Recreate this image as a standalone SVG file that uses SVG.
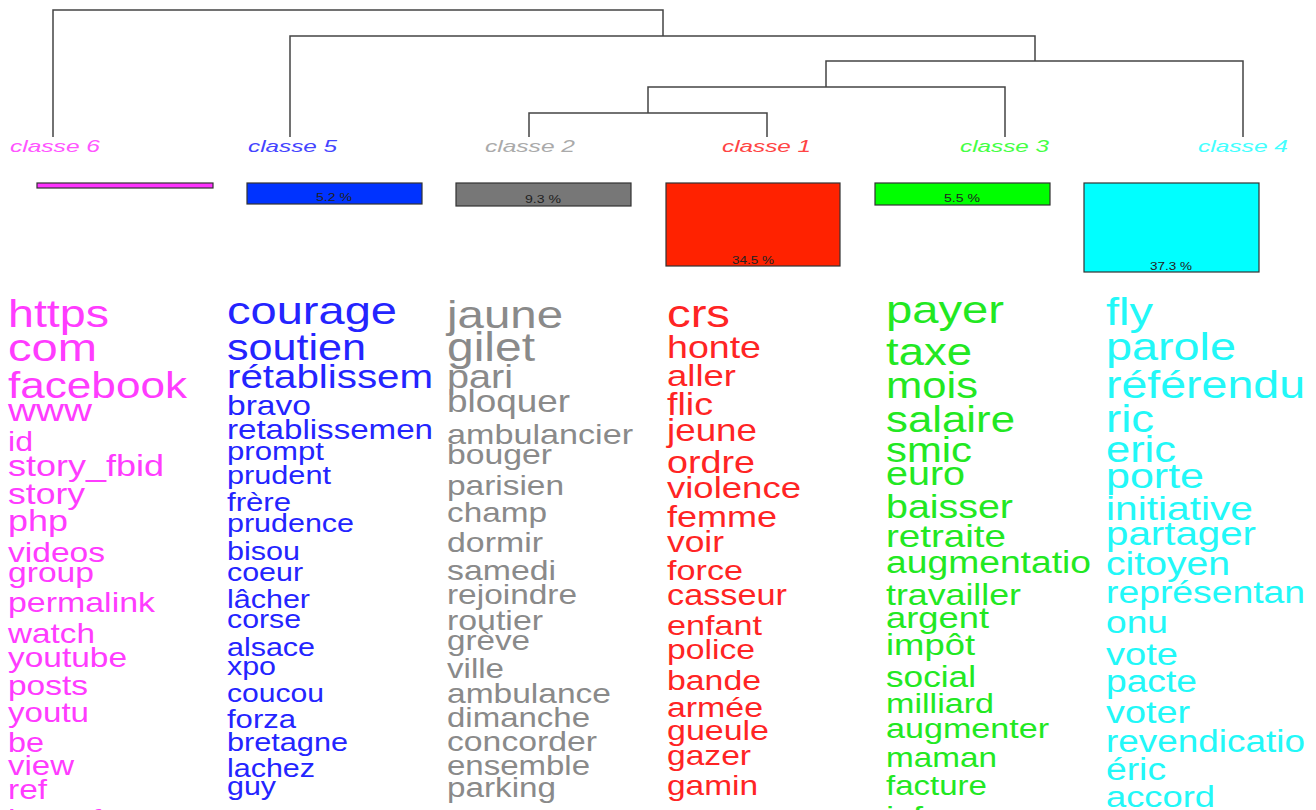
<svg xmlns="http://www.w3.org/2000/svg" width="1316" height="810" viewBox="0 0 1316 810">
<style>
text{font-family:"Liberation Sans",Arial,sans-serif}
.lbl{font-size:17px;font-style:italic}
.pct{font-size:10px;fill:#222}
.bar{stroke:#333;stroke-width:1.2}
.c6{fill:#ff3cff}.c5{fill:#2424ff}.c2{fill:#8a8a8a}.c1{fill:#ff2424}.c3{fill:#22e822}.c4{fill:#22f8f8}
.l6{fill:#ff55ff}.l5{fill:#4444ff}.l2{fill:#aaaaaa}.l1{fill:#ff4444}.l3{fill:#44ff44}.l4{fill:#44ffff}
</style>
<rect width="1316" height="810" fill="#ffffff"/>
<g id="connectors" fill="none" stroke="#444" stroke-width="1.5">
<path d="M53,137 V10 H663 V36"/>
<path d="M290,137 V36 H1035 V61"/>
<path d="M826,87 V61 H1243 V137"/>
<path d="M648,113 V87 H1005 V137"/>
<path d="M529,137 V113 H767 V137"/>
</g>
<g id="classe6">
<text class="lbl l6" x="10" y="152" textLength="90" lengthAdjust="spacingAndGlyphs">classe 6</text>
<rect class="bar" x="37" y="183" width="176" height="5" fill="#ff33ff"/>
</g>
<g id="classe5">
<text class="lbl l5" x="248" y="152" textLength="89" lengthAdjust="spacingAndGlyphs">classe 5</text>
<rect class="bar" x="247" y="183" width="175" height="21" fill="#0033ff"/>
<text class="pct" x="316" y="201" textLength="36" lengthAdjust="spacingAndGlyphs">5.2 %</text>
</g>
<g id="classe2">
<text class="lbl l2" x="485" y="152" textLength="90" lengthAdjust="spacingAndGlyphs">classe 2</text>
<rect class="bar" x="456" y="183" width="175" height="23" fill="#777777"/>
<text class="pct" x="525" y="203" textLength="36" lengthAdjust="spacingAndGlyphs">9.3 %</text>
</g>
<g id="classe1">
<text class="lbl l1" x="722" y="152" textLength="89" lengthAdjust="spacingAndGlyphs">classe 1</text>
<rect class="bar" x="666" y="183" width="174" height="83" fill="#ff2200"/>
<text class="pct" x="732" y="264" textLength="42" lengthAdjust="spacingAndGlyphs">34.5 %</text>
</g>
<g id="classe3">
<text class="lbl l3" x="960" y="152" textLength="89" lengthAdjust="spacingAndGlyphs">classe 3</text>
<rect class="bar" x="875" y="183" width="175" height="22" fill="#00ff00"/>
<text class="pct" x="944" y="202" textLength="36" lengthAdjust="spacingAndGlyphs">5.5 %</text>
</g>
<g id="classe4">
<text class="lbl l4" x="1198" y="152" textLength="90" lengthAdjust="spacingAndGlyphs">classe 4</text>
<rect class="bar" x="1084" y="183" width="175" height="89" fill="#00ffff"/>
<text class="pct" x="1150" y="270" textLength="42" lengthAdjust="spacingAndGlyphs">37.3 %</text>
</g>
<g id="words6" class="c6">
<text x="8" y="327" font-size="39" textLength="101" lengthAdjust="spacingAndGlyphs">https</text>
<text x="8" y="361" font-size="39" textLength="89" lengthAdjust="spacingAndGlyphs">com</text>
<text x="8" y="398" font-size="37" textLength="179" lengthAdjust="spacingAndGlyphs">facebook</text>
<text x="8" y="421" font-size="32" textLength="84" lengthAdjust="spacingAndGlyphs">www</text>
<text x="8" y="451" font-size="27" textLength="25" lengthAdjust="spacingAndGlyphs">id</text>
<text x="8" y="476" font-size="30" textLength="156" lengthAdjust="spacingAndGlyphs">story_fbid</text>
<text x="8" y="504" font-size="29.5" textLength="77" lengthAdjust="spacingAndGlyphs">story</text>
<text x="8" y="531" font-size="30" textLength="60" lengthAdjust="spacingAndGlyphs">php</text>
<text x="8" y="562" font-size="28" textLength="97" lengthAdjust="spacingAndGlyphs">videos</text>
<text x="8" y="582" font-size="28" textLength="86" lengthAdjust="spacingAndGlyphs">group</text>
<text x="8" y="612" font-size="28.3" textLength="147" lengthAdjust="spacingAndGlyphs">permalink</text>
<text x="8" y="643" font-size="27.8" textLength="87" lengthAdjust="spacingAndGlyphs">watch</text>
<text x="8" y="667" font-size="27.9" textLength="119" lengthAdjust="spacingAndGlyphs">youtube</text>
<text x="8" y="695" font-size="27.9" textLength="80" lengthAdjust="spacingAndGlyphs">posts</text>
<text x="8" y="722" font-size="27.6" textLength="81" lengthAdjust="spacingAndGlyphs">youtu</text>
<text x="8" y="752" font-size="27" textLength="36" lengthAdjust="spacingAndGlyphs">be</text>
<text x="8" y="775" font-size="27.5" textLength="66" lengthAdjust="spacingAndGlyphs">view</text>
<text x="8" y="799" font-size="27.5" textLength="39" lengthAdjust="spacingAndGlyphs">ref</text>
<text x="8" y="829" font-size="28" textLength="93" lengthAdjust="spacingAndGlyphs">hc_ref</text>
</g>
<g id="words5" class="c5">
<text x="227" y="324" font-size="39" textLength="170" lengthAdjust="spacingAndGlyphs">courage</text>
<text x="227" y="360" font-size="36" textLength="139" lengthAdjust="spacingAndGlyphs">soutien</text>
<text x="227" y="388" font-size="33.5" textLength="206" lengthAdjust="spacingAndGlyphs">rétablissem</text>
<text x="227" y="415" font-size="28" textLength="84" lengthAdjust="spacingAndGlyphs">bravo</text>
<text x="227" y="439" font-size="27.5" textLength="206" lengthAdjust="spacingAndGlyphs">retablissemen</text>
<text x="227" y="460" font-size="26" textLength="97" lengthAdjust="spacingAndGlyphs">prompt</text>
<text x="227" y="484" font-size="25.6" textLength="104" lengthAdjust="spacingAndGlyphs">prudent</text>
<text x="227" y="511" font-size="26" textLength="64" lengthAdjust="spacingAndGlyphs">frère</text>
<text x="227" y="532" font-size="25.4" textLength="127" lengthAdjust="spacingAndGlyphs">prudence</text>
<text x="227" y="560" font-size="25.4" textLength="73" lengthAdjust="spacingAndGlyphs">bisou</text>
<text x="227" y="581" font-size="25.4" textLength="76" lengthAdjust="spacingAndGlyphs">coeur</text>
<text x="227" y="608" font-size="25.4" textLength="83" lengthAdjust="spacingAndGlyphs">lâcher</text>
<text x="227" y="628" font-size="25.4" textLength="74" lengthAdjust="spacingAndGlyphs">corse</text>
<text x="227" y="656" font-size="25.4" textLength="88" lengthAdjust="spacingAndGlyphs">alsace</text>
<text x="227" y="675" font-size="25.4" textLength="49" lengthAdjust="spacingAndGlyphs">xpo</text>
<text x="227" y="702" font-size="25.4" textLength="97" lengthAdjust="spacingAndGlyphs">coucou</text>
<text x="227" y="728" font-size="25.6" textLength="69" lengthAdjust="spacingAndGlyphs">forza</text>
<text x="227" y="751" font-size="25.5" textLength="121" lengthAdjust="spacingAndGlyphs">bretagne</text>
<text x="227" y="777" font-size="25.4" textLength="88" lengthAdjust="spacingAndGlyphs">lachez</text>
<text x="227" y="795" font-size="25.4" textLength="49" lengthAdjust="spacingAndGlyphs">guy</text>
</g>
<g id="words2" class="c2">
<text x="447" y="328" font-size="39.5" textLength="116" lengthAdjust="spacingAndGlyphs">jaune</text>
<text x="447" y="361" font-size="40" textLength="88" lengthAdjust="spacingAndGlyphs">gilet</text>
<text x="447" y="388" font-size="33" textLength="66" lengthAdjust="spacingAndGlyphs">pari</text>
<text x="447" y="412" font-size="30.7" textLength="123" lengthAdjust="spacingAndGlyphs">bloquer</text>
<text x="447" y="444" font-size="28.5" textLength="186" lengthAdjust="spacingAndGlyphs">ambulancier</text>
<text x="447" y="464" font-size="28" textLength="105" lengthAdjust="spacingAndGlyphs">bouger</text>
<text x="447" y="495" font-size="27.8" textLength="117" lengthAdjust="spacingAndGlyphs">parisien</text>
<text x="447" y="522" font-size="27.8" textLength="100" lengthAdjust="spacingAndGlyphs">champ</text>
<text x="447" y="552" font-size="28" textLength="96" lengthAdjust="spacingAndGlyphs">dormir</text>
<text x="447" y="580" font-size="28" textLength="109" lengthAdjust="spacingAndGlyphs">samedi</text>
<text x="447" y="604" font-size="27.8" textLength="130" lengthAdjust="spacingAndGlyphs">rejoindre</text>
<text x="447" y="630" font-size="28" textLength="96" lengthAdjust="spacingAndGlyphs">routier</text>
<text x="447" y="650" font-size="27.7" textLength="83" lengthAdjust="spacingAndGlyphs">grève</text>
<text x="447" y="678" font-size="27.5" textLength="57" lengthAdjust="spacingAndGlyphs">ville</text>
<text x="447" y="703" font-size="28" textLength="164" lengthAdjust="spacingAndGlyphs">ambulance</text>
<text x="447" y="727" font-size="27.5" textLength="143" lengthAdjust="spacingAndGlyphs">dimanche</text>
<text x="447" y="751" font-size="28" textLength="150" lengthAdjust="spacingAndGlyphs">concorder</text>
<text x="447" y="775" font-size="27.5" textLength="143" lengthAdjust="spacingAndGlyphs">ensemble</text>
<text x="447" y="797" font-size="27.7" textLength="109" lengthAdjust="spacingAndGlyphs">parking</text>
</g>
<g id="words1" class="c1">
<text x="667" y="327" font-size="39" textLength="63" lengthAdjust="spacingAndGlyphs">crs</text>
<text x="667" y="358" font-size="31.3" textLength="94" lengthAdjust="spacingAndGlyphs">honte</text>
<text x="667" y="386" font-size="30.4" textLength="69" lengthAdjust="spacingAndGlyphs">aller</text>
<text x="667" y="415" font-size="31.3" textLength="46" lengthAdjust="spacingAndGlyphs">flic</text>
<text x="667" y="441" font-size="30.7" textLength="90" lengthAdjust="spacingAndGlyphs">jeune</text>
<text x="667" y="473" font-size="31.4" textLength="88" lengthAdjust="spacingAndGlyphs">ordre</text>
<text x="667" y="498" font-size="30.4" textLength="134" lengthAdjust="spacingAndGlyphs">violence</text>
<text x="667" y="527" font-size="30" textLength="110" lengthAdjust="spacingAndGlyphs">femme</text>
<text x="667" y="552" font-size="29.5" textLength="57" lengthAdjust="spacingAndGlyphs">voir</text>
<text x="667" y="580" font-size="28.5" textLength="76" lengthAdjust="spacingAndGlyphs">force</text>
<text x="667" y="605" font-size="28.6" textLength="120" lengthAdjust="spacingAndGlyphs">casseur</text>
<text x="667" y="635" font-size="28.5" textLength="95" lengthAdjust="spacingAndGlyphs">enfant</text>
<text x="667" y="659" font-size="28" textLength="88" lengthAdjust="spacingAndGlyphs">police</text>
<text x="667" y="690" font-size="28.2" textLength="94" lengthAdjust="spacingAndGlyphs">bande</text>
<text x="667" y="717" font-size="28.2" textLength="96" lengthAdjust="spacingAndGlyphs">armée</text>
<text x="667" y="740" font-size="28.3" textLength="102" lengthAdjust="spacingAndGlyphs">gueule</text>
<text x="667" y="765" font-size="28" textLength="84" lengthAdjust="spacingAndGlyphs">gazer</text>
<text x="667" y="795" font-size="27.8" textLength="91" lengthAdjust="spacingAndGlyphs">gamin</text>
<text x="667" y="826" font-size="28" textLength="100" lengthAdjust="spacingAndGlyphs">casser</text>
</g>
<g id="words3" class="c3">
<text x="886" y="323" font-size="39.3" textLength="118" lengthAdjust="spacingAndGlyphs">payer</text>
<text x="886" y="365" font-size="38" textLength="86" lengthAdjust="spacingAndGlyphs">taxe</text>
<text x="886" y="398" font-size="36.3" textLength="92" lengthAdjust="spacingAndGlyphs">mois</text>
<text x="886" y="432" font-size="36.5" textLength="129" lengthAdjust="spacingAndGlyphs">salaire</text>
<text x="886" y="462" font-size="34.8" textLength="86" lengthAdjust="spacingAndGlyphs">smic</text>
<text x="886" y="485" font-size="33" textLength="79" lengthAdjust="spacingAndGlyphs">euro</text>
<text x="886" y="518" font-size="32.8" textLength="127" lengthAdjust="spacingAndGlyphs">baisser</text>
<text x="886" y="547" font-size="32.2" textLength="120" lengthAdjust="spacingAndGlyphs">retraite</text>
<text x="886" y="573" font-size="31" textLength="205" lengthAdjust="spacingAndGlyphs">augmentatio</text>
<text x="886" y="605" font-size="29.8" textLength="135" lengthAdjust="spacingAndGlyphs">travailler</text>
<text x="886" y="628" font-size="30.3" textLength="103" lengthAdjust="spacingAndGlyphs">argent</text>
<text x="886" y="655" font-size="30.3" textLength="89" lengthAdjust="spacingAndGlyphs">impôt</text>
<text x="886" y="687" font-size="29.3" textLength="90" lengthAdjust="spacingAndGlyphs">social</text>
<text x="886" y="713" font-size="28.4" textLength="108" lengthAdjust="spacingAndGlyphs">milliard</text>
<text x="886" y="738" font-size="28.4" textLength="163" lengthAdjust="spacingAndGlyphs">augmenter</text>
<text x="886" y="767" font-size="27.8" textLength="111" lengthAdjust="spacingAndGlyphs">maman</text>
<text x="886" y="795" font-size="27.5" textLength="101" lengthAdjust="spacingAndGlyphs">facture</text>
<text x="886" y="826" font-size="28" textLength="37" lengthAdjust="spacingAndGlyphs">isf</text>
</g>
<g id="words4" class="c4">
<text x="1106" y="325" font-size="39" textLength="47" lengthAdjust="spacingAndGlyphs">fly</text>
<text x="1106" y="360" font-size="39" textLength="130" lengthAdjust="spacingAndGlyphs">parole</text>
<text x="1106" y="398" font-size="38.8" textLength="199" lengthAdjust="spacingAndGlyphs">référendu</text>
<text x="1106" y="432" font-size="38" textLength="48" lengthAdjust="spacingAndGlyphs">ric</text>
<text x="1106" y="462" font-size="36.3" textLength="70" lengthAdjust="spacingAndGlyphs">eric</text>
<text x="1106" y="488" font-size="35.9" textLength="98" lengthAdjust="spacingAndGlyphs">porte</text>
<text x="1106" y="520" font-size="34" textLength="147" lengthAdjust="spacingAndGlyphs">initiative</text>
<text x="1106" y="545" font-size="33.6" textLength="150" lengthAdjust="spacingAndGlyphs">partager</text>
<text x="1106" y="575" font-size="32.5" textLength="124" lengthAdjust="spacingAndGlyphs">citoyen</text>
<text x="1106" y="603" font-size="31" textLength="199" lengthAdjust="spacingAndGlyphs">représentan</text>
<text x="1106" y="633" font-size="31" textLength="62" lengthAdjust="spacingAndGlyphs">onu</text>
<text x="1106" y="665" font-size="31.7" textLength="72" lengthAdjust="spacingAndGlyphs">vote</text>
<text x="1106" y="692" font-size="31" textLength="91" lengthAdjust="spacingAndGlyphs">pacte</text>
<text x="1106" y="723" font-size="31.5" textLength="84" lengthAdjust="spacingAndGlyphs">voter</text>
<text x="1106" y="752" font-size="30.8" textLength="199" lengthAdjust="spacingAndGlyphs">revendicatio</text>
<text x="1106" y="780" font-size="31" textLength="60" lengthAdjust="spacingAndGlyphs">éric</text>
<text x="1106" y="807" font-size="30.3" textLength="109" lengthAdjust="spacingAndGlyphs">accord</text>
</g>
</svg>
